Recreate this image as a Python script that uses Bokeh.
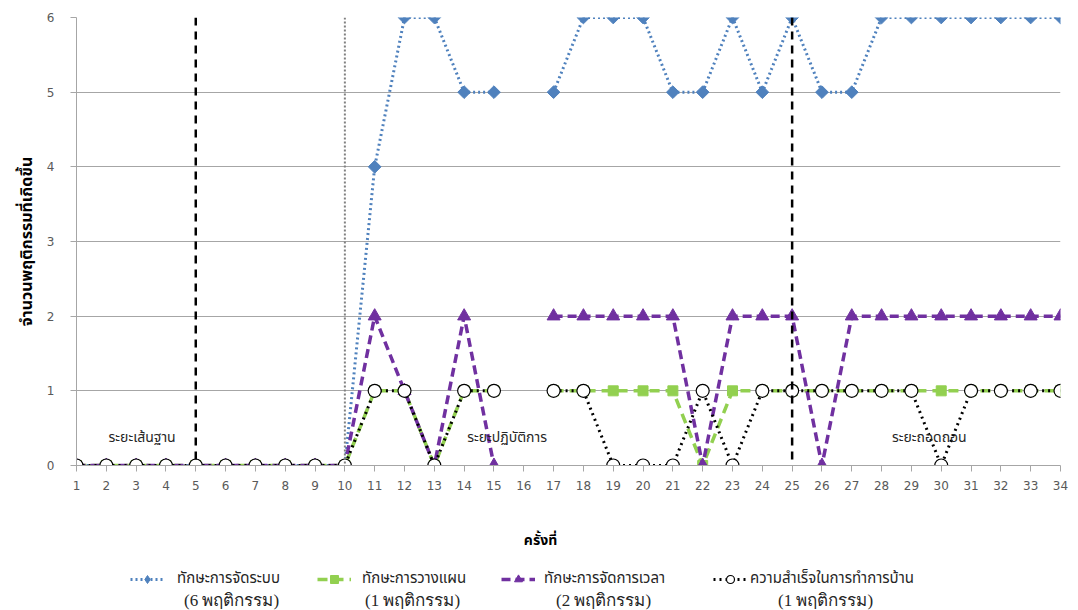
import numpy as np
from bokeh.plotting import figure
from bokeh.layouts import column
from bokeh.models import Range1d, FixedTicker, Span, Label, Legend, LegendItem
from bokeh.embed import file_html
from bokeh.resources import INLINE

nan = float("nan")

# ---- data ----
sessions = list(range(1, 35))
organizing = [0] * 10 + [4, 6, 6, 5, 5, nan, 5, 6, 6, 6, 5, 5, 6, 5, 6, 5, 5, 6, 6, 6, 6, 6, 6, 6]
planning = [0] * 10 + [1, 1, 0, 1, 1, nan, 1, 1, 1, 1, 1, 0, 1, 1, 1, 1, 1, 1, 1, 1, 1, 1, 1, 1]
time_mgmt = [0] * 10 + [2, 1, 0, 2, 0, nan, 2, 2, 2, 2, 2, 0, 2, 2, 2, 0, 2, 2, 2, 2, 2, 2, 2, 2]
homework = [0] * 10 + [1, 1, 0, 1, 1, nan, 1, 1, 0, 0, 0, 1, 0, 1, 1, 1, 1, 1, 1, 0, 1, 1, 1, 1]

series_names = ["ทักษะการจัดระบบ", "ทักษะการวางแผน", "ทักษะการจัดการเวลา", "ความสำเร็จในการทำการบ้าน"]
series_counts = ["(6 พฤติกรรม)", "(1 พฤติกรรม)", "(2 พฤติกรรม)", "(1 พฤติกรรม)"]
phase_names = ["ระยะเส้นฐาน", "ระยะปฏิบัติการ", "ระยะถอดถอน"]
phase_lines = [5, 25]
start_line = 10
y_ticks = [0, 1, 2, 3, 4, 5, 6]
x_title = "ครั้งที่"
y_title = "จำนวนพฤติกรรมที่เกิดขึ้น"

THAI = "Tahoma, 'Noto Sans Thai', 'Noto Sans', sans-serif"
SERIF = "'Liberation Serif', 'Times New Roman', serif"
blue, green, purple = "#4F81BD", "#92D050", "#7030A0"
styles = [
    dict(line=dict(line_color=blue, line_width=3, line_dash="2 3"),
         mark=dict(marker="square", angle=np.pi / 4, size=9, fill_color=blue, line_color=blue),
         leg=dict(marker="diamond", size=14, fill_color=blue, line_color=blue)),
    dict(line=dict(line_color=green, line_width=3.5, line_dash="10 6"),
         mark=dict(marker="square", size=10, fill_color=green, line_color=green)),
    dict(line=dict(line_color=purple, line_width=3.5, line_dash="9 5"),
         mark=dict(marker="triangle", size=13, fill_color=purple, line_color=purple)),
    dict(line=dict(line_color="black", line_width=3, line_dash="2 4"),
         mark=dict(marker="circle", size=13, fill_color="white", line_color="black", line_width=1.2)),
]

W = 1070
FL, FR = 76, 10  # frame borders (left / right), shared by both panels
p = figure(width=W, height=500, x_range=Range1d(1, 34), y_range=Range1d(0, 6),
           output_backend="svg", toolbar_location=None,
           min_border_left=FL, min_border_right=FR, min_border_top=17, min_border_bottom=35)
p.outline_line_color = None

p.xaxis.ticker = FixedTicker(ticks=sessions)
p.yaxis.ticker = FixedTicker(ticks=y_ticks)
p.xgrid.visible = False
p.ygrid.grid_line_color = "#a6a6a6"
for ax in (p.xaxis, p.yaxis):
    ax.axis_line_color = "#a6a6a6"
    ax.major_tick_line_color = "#a6a6a6"
    ax.major_tick_in = 0
    ax.major_tick_out = 6
    ax.minor_tick_line_color = None
    ax.major_label_text_font = "DejaVu Sans"
    ax.major_label_text_font_size = "12px"
    ax.major_label_text_color = "#595959"
p.xaxis.major_label_standoff = 9
p.yaxis.major_label_standoff = 16
p.yaxis.axis_label = y_title
p.yaxis.axis_label_text_font = THAI
p.yaxis.axis_label_text_font_style = "bold"
p.yaxis.axis_label_text_font_size = "16px"
p.yaxis.axis_label_text_color = "black"
p.yaxis.axis_label_standoff = 5

for loc in phase_lines:
    p.add_layout(Span(location=loc, dimension="height", line_color="black",
                      line_dash="8 6", line_width=2.5))
p.add_layout(Span(location=start_line, dimension="height", line_color="#808080",
                  line_dash="2 2", line_width=2))

for ys, st in zip([organizing, planning, time_mgmt, homework], styles):
    p.line(sessions, ys, **st["line"])
    p.scatter(sessions, ys, **st["mark"])

phase_x = [3.2, 15.44, 29.6]
for px, name in zip(phase_x, phase_names):
    p.add_layout(Label(x=px, y=0.375, text=name, text_align="center", text_baseline="middle",
                       text_font=THAI, text_font_size="14px", text_color="#262626"))

# ---- legend / x title panel (data coordinates = page pixels) ----
q = figure(width=W, height=110, x_range=Range1d(FL, W - FR), y_range=Range1d(610, 500),
           output_backend="svg", toolbar_location=None, x_axis_location=None,
           y_axis_location=None, min_border_left=FL, min_border_right=FR,
           min_border_top=0, min_border_bottom=0)
q.outline_line_color = None
q.grid.visible = False

q.add_layout(Label(x=540, y=540, text=x_title, text_align="center", text_baseline="middle",
                   text_font=THAI, text_font_size="14px", text_font_style="bold",
                   text_color="black"))

leg_x = [130, 317, 501, 713]
leg_stand = [13, 11, 9, 3]
centers = [231, 412, 603, 825]
for st, name, cnt, lx, sd, cx in zip(styles, series_names, series_counts, leg_x, leg_stand, centers):
    lr = q.line([nan], [nan], **st["line"])
    sr = q.scatter([nan], [nan], **st.get("leg", st["mark"]))
    leg = Legend(items=[LegendItem(label=name, renderers=[lr, sr])], location=(lx - FL, 20),
                 orientation="horizontal", padding=0, margin=0, border_line_color=None,
                 background_fill_alpha=0, glyph_width=34, glyph_height=20, label_height=20,
                 label_standoff=sd, label_text_font=THAI, label_text_font_size="15px",
                 label_text_color="#262626")
    q.add_layout(leg, "center")
    q.add_layout(Label(x=cx, y=600, text=cnt, text_align="center", text_baseline="middle",
                       text_font=SERIF, text_font_size="17px", text_color="#262626"))

open("out.html", "w").write(file_html(column(p, q, spacing=0), INLINE))
